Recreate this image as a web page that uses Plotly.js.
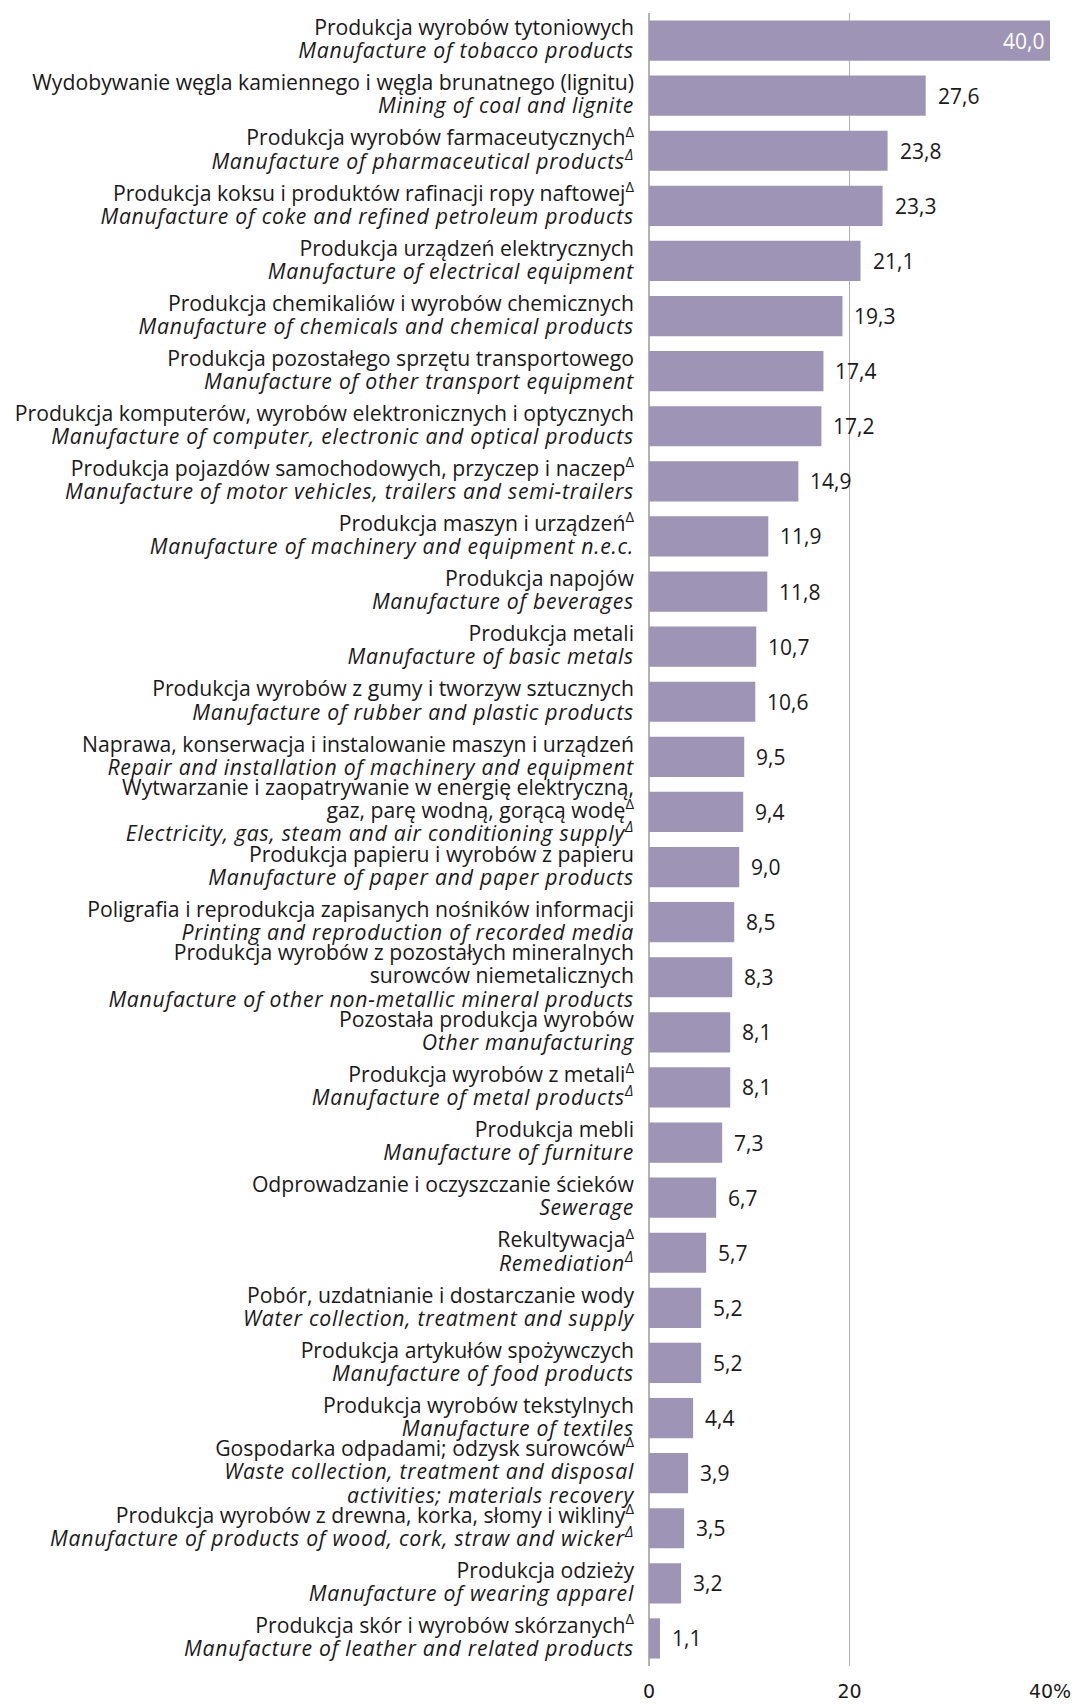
<!DOCTYPE html>
<html>
<head>
<meta charset="utf-8">
<script src="https://cdn.plot.ly/plotly-3.0.1.min.js"></script>
<style>html,body{margin:0;padding:0;background:#fff;}#chart{width:1072px;height:1704px;}</style>
</head>
<body>
<div id="chart"></div>
<script>
const D = '<sup>Δ</sup>';
const categoriesPL = [
  'Produkcja wyrobów tytoniowych',
  'Wydobywanie węgla kamiennego i węgla brunatnego (lignitu)',
  'Produkcja wyrobów farmaceutycznych' + D,
  'Produkcja koksu i produktów rafinacji ropy naftowej' + D,
  'Produkcja urządzeń elektrycznych',
  'Produkcja chemikaliów i wyrobów chemicznych',
  'Produkcja pozostałego sprzętu transportowego',
  'Produkcja komputerów, wyrobów elektronicznych i optycznych',
  'Produkcja pojazdów samochodowych, przyczep i naczep' + D,
  'Produkcja maszyn i urządzeń' + D,
  'Produkcja napojów',
  'Produkcja metali',
  'Produkcja wyrobów z gumy i tworzyw sztucznych',
  'Naprawa, konserwacja i instalowanie maszyn i urządzeń',
  'Wytwarzanie i zaopatrywanie w energię elektryczną,|gaz, parę wodną, gorącą wodę' + D,
  'Produkcja papieru i wyrobów z papieru',
  'Poligrafia i reprodukcja zapisanych nośników informacji',
  'Produkcja wyrobów z pozostałych mineralnych|surowców niemetalicznych',
  'Pozostała produkcja wyrobów',
  'Produkcja wyrobów z metali' + D,
  'Produkcja mebli',
  'Odprowadzanie i oczyszczanie ścieków',
  'Rekultywacja' + D,
  'Pobór, uzdatnianie i dostarczanie wody',
  'Produkcja artykułów spożywczych',
  'Produkcja wyrobów tekstylnych',
  'Gospodarka odpadami; odzysk surowców' + D,
  'Produkcja wyrobów z drewna, korka, słomy i wikliny' + D,
  'Produkcja odzieży',
  'Produkcja skór i wyrobów skórzanych' + D
];
const categoriesEN = [
  'Manufacture of tobacco products',
  'Mining of coal and lignite',
  'Manufacture of pharmaceutical products' + D,
  'Manufacture of coke and refined petroleum products',
  'Manufacture of electrical equipment',
  'Manufacture of chemicals and chemical products',
  'Manufacture of other transport equipment',
  'Manufacture of computer, electronic and optical products',
  'Manufacture of motor vehicles, trailers and semi-trailers',
  'Manufacture of machinery and equipment n.e.c.',
  'Manufacture of beverages',
  'Manufacture of basic metals',
  'Manufacture of rubber and plastic products',
  'Repair and installation of machinery and equipment',
  'Electricity, gas, steam and air conditioning supply' + D,
  'Manufacture of paper and paper products',
  'Printing and reproduction of recorded media',
  'Manufacture of other non-metallic mineral products',
  'Other manufacturing',
  'Manufacture of metal products' + D,
  'Manufacture of furniture',
  'Sewerage',
  'Remediation' + D,
  'Water collection, treatment and supply',
  'Manufacture of food products',
  'Manufacture of textiles',
  'Waste collection, treatment and disposal|activities; materials recovery',
  'Manufacture of products of wood, cork, straw and wicker' + D,
  'Manufacture of wearing apparel',
  'Manufacture of leather and related products'
];
const values = [40.0, 27.6, 23.8, 23.3, 21.1, 19.3, 17.4, 17.2, 14.9, 11.9, 11.8, 10.7, 10.6, 9.5, 9.4, 9.0, 8.5, 8.3, 8.1, 8.1, 7.3, 6.7, 5.7, 5.2, 5.2, 4.4, 3.9, 3.5, 3.2, 1.1];
const tickVals = [0, 20, 40];
const tickText = ['0', '20', '40%'];

const SR = '<span style="font-size:21.2px">';
const SI = '<span style="font-size:21.2px;letter-spacing:0.75px">';
const lines = (txt, italic) => txt.split('|').map(l => italic ? SI + '<i>' + l + '</i></span>' : SR + l + '</span>').join('<br>');
const cats = categoriesPL.map((p, i) => lines(p, false) + '<br>' + lines(categoriesEN[i], true));
const fmt = v => v.toFixed(1).replace('.', ',');

const annotations = values.map((v, i) => {
  const inside = v >= 39;
  return {
    x: v, y: cats[i], xref: 'x', yref: 'y',
    text: fmt(v), showarrow: false,
    xanchor: inside ? 'right' : 'left',
    xshift: inside ? -4 : 10,
    font: {family: 'Open Sans, Noto Sans, sans-serif', size: 21, color: inside ? '#ffffff' : '#1a1a1a'}
  };
});

const trace = {
  type: 'bar', orientation: 'h',
  x: values, y: cats,
  marker: {color: '#9e95b6'},
  hoverinfo: 'none'
};

const layout = {
  width: 1072, height: 1704,
  margin: {l: 649, r: 22, t: 13, b: 38},
  paper_bgcolor: '#ffffff', plot_bgcolor: '#ffffff',
  showlegend: false,
  bargap: 0.27,
  xaxis: {
    range: [0, 40], tickvals: tickVals, ticktext: tickText,
    showgrid: true, gridcolor: '#b3b3b3', gridwidth: 1.3,
    zeroline: true, zerolinecolor: '#b3b3b3', zerolinewidth: 1.3,
    showline: false, ticks: '',
    ticklabelstandoff: 12,
    tickfont: {family: 'DejaVu Sans, Verdana, sans-serif', size: 19, color: '#1a1a1a'},
    fixedrange: true
  },
  yaxis: {
    type: 'category', autorange: 'reversed',
    showgrid: false, zeroline: false, ticks: '', showline: false,
    ticklabelstandoff: 14,
    tickfont: {family: 'Open Sans, Noto Sans, sans-serif', size: 17.8, color: '#1a1a1a'},
    fixedrange: true
  },
  annotations: annotations
};

Plotly.newPlot('chart', [trace], layout, {displayModeBar: false, staticPlot: true});
</script>
</body>
</html>
